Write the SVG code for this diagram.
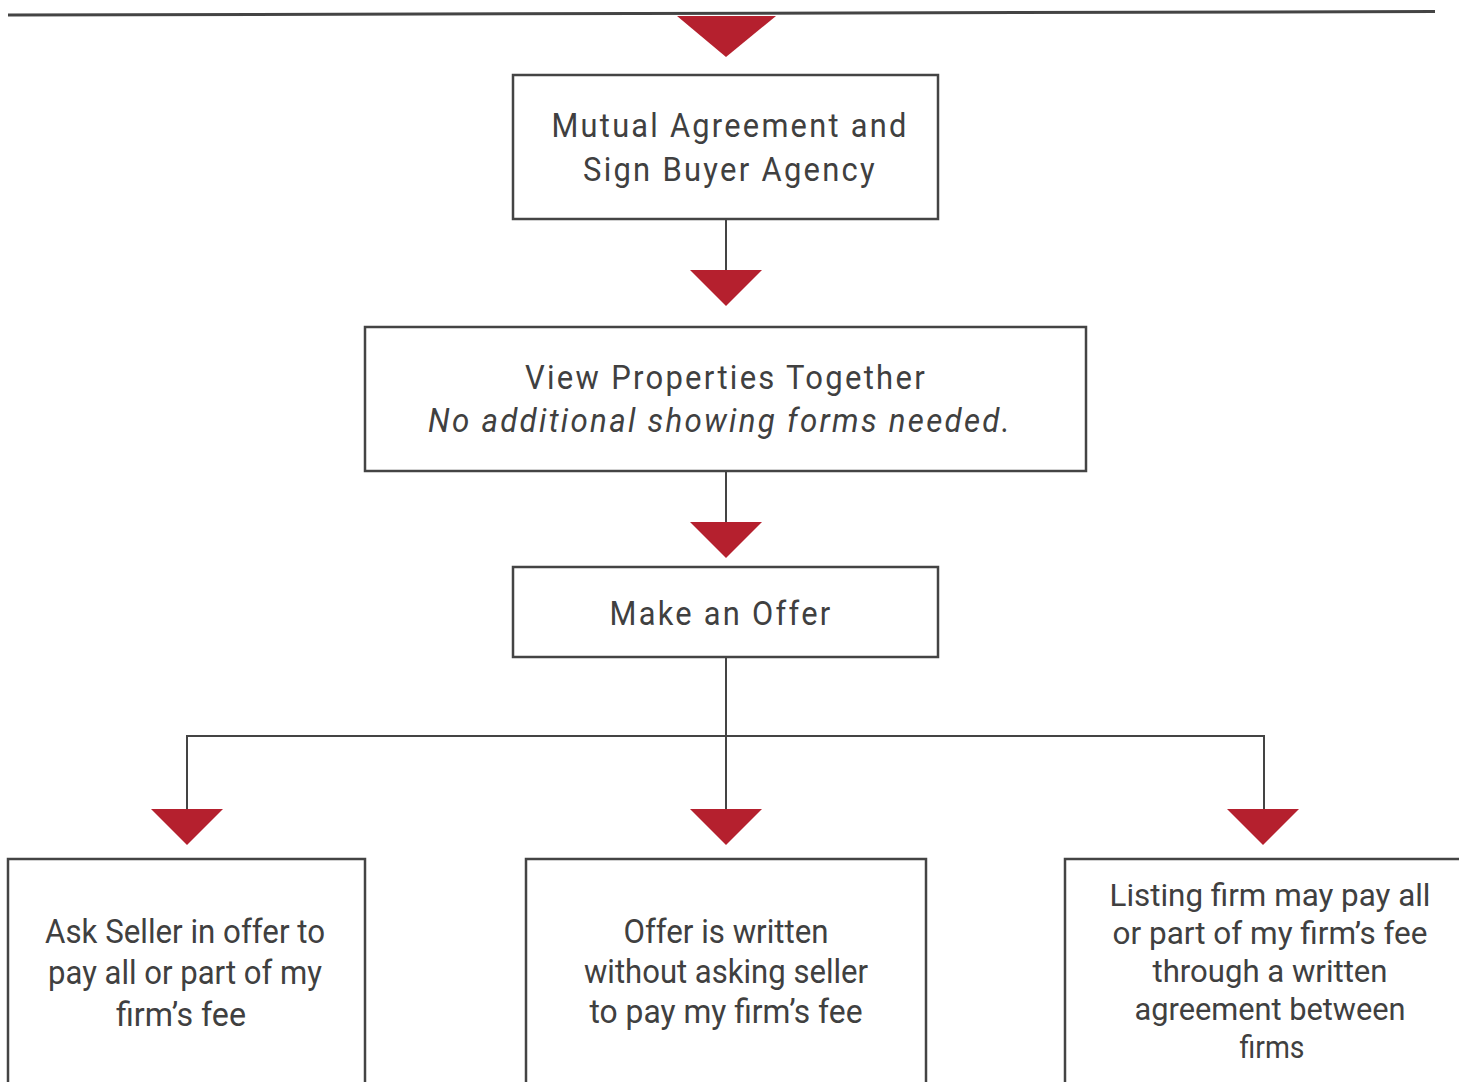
<svg xmlns="http://www.w3.org/2000/svg" width="1459" height="1082" viewBox="0 0 1459 1082">
<style>
.box{fill:#fff;stroke:#444;stroke-width:2.5}
.t{font-family:Roboto,"Liberation Sans",sans-serif;fill:#404040;text-anchor:middle}
.big{font-size:34px;letter-spacing:2.5px}
.sm{font-size:33px}
.xs{font-size:31px}
.c{fill:none;stroke:#444;stroke-width:2}
.arr{fill:#B5202E}
</style>
<rect width="1459" height="1082" fill="#fff"/>
<g id="connectors">
<line x1="8" y1="15" x2="1435" y2="11.5" stroke="#444" stroke-width="3"/>
<polygon class="arr" points="677,16 776,16 726,57"/>
<path class="c" d="M726 219 V271"/>
<polygon class="arr" points="690,270 762,270 726,306"/>
<path class="c" d="M726 471 V523"/>
<polygon class="arr" points="690,522 762,522 726,558"/>
<path class="c" d="M726 657 V810 M187 810 V736 H1264 V810"/>
<polygon class="arr" points="151,809 223,809 187,845"/>
<polygon class="arr" points="690,809 762,809 726,845"/>
<polygon class="arr" points="1227,809 1299,809 1263,845"/>
</g>
<g id="n1">
<rect class="box" x="513" y="75" width="425" height="144"/>
<text class="t big" x="730" y="137" textLength="357" lengthAdjust="spacingAndGlyphs">Mutual Agreement and</text>
<text class="t big" x="730" y="181" textLength="294" lengthAdjust="spacingAndGlyphs">Sign Buyer Agency</text>
</g>
<g id="n2">
<rect class="box" x="365" y="327" width="721" height="144"/>
<text class="t big" x="726" y="389" textLength="402" lengthAdjust="spacingAndGlyphs">View Properties Together</text>
<text class="t big" x="720" y="432" font-style="italic" textLength="584" lengthAdjust="spacingAndGlyphs">No additional showing forms needed.</text>
</g>
<g id="n3">
<rect class="box" x="513" y="567" width="425" height="90"/>
<text class="t big" x="721" y="625" textLength="223" lengthAdjust="spacingAndGlyphs">Make an Offer</text>
</g>
<g id="n4">
<rect class="box" x="8" y="859" width="357" height="240"/>
<text class="t sm" x="185" y="943" textLength="280" lengthAdjust="spacingAndGlyphs">Ask Seller in offer to</text>
<text class="t sm" x="185" y="984" textLength="274" lengthAdjust="spacingAndGlyphs">pay all or part of my</text>
<text class="t sm" x="181" y="1026" textLength="130" lengthAdjust="spacingAndGlyphs">firm’s fee</text>
</g>
<g id="n5">
<rect class="box" x="526" y="859" width="400" height="240"/>
<text class="t sm" x="726" y="943" textLength="205" lengthAdjust="spacingAndGlyphs">Offer is written</text>
<text class="t sm" x="726" y="983" textLength="284" lengthAdjust="spacingAndGlyphs">without asking seller</text>
<text class="t sm" x="726" y="1023" textLength="273" lengthAdjust="spacingAndGlyphs">to pay my firm’s fee</text>
</g>
<g id="n6">
<rect class="box" x="1065" y="859" width="410" height="240"/>
<text class="t xs" x="1270" y="906" textLength="321" lengthAdjust="spacingAndGlyphs">Listing firm may pay all</text>
<text class="t xs" x="1270" y="944" textLength="315" lengthAdjust="spacingAndGlyphs">or part of my firm’s fee</text>
<text class="t xs" x="1270" y="982" textLength="235" lengthAdjust="spacingAndGlyphs">through a written</text>
<text class="t xs" x="1270" y="1020" textLength="271" lengthAdjust="spacingAndGlyphs">agreement between</text>
<text class="t xs" x="1272" y="1058" textLength="65" lengthAdjust="spacingAndGlyphs">firms</text>
</g>
</svg>
